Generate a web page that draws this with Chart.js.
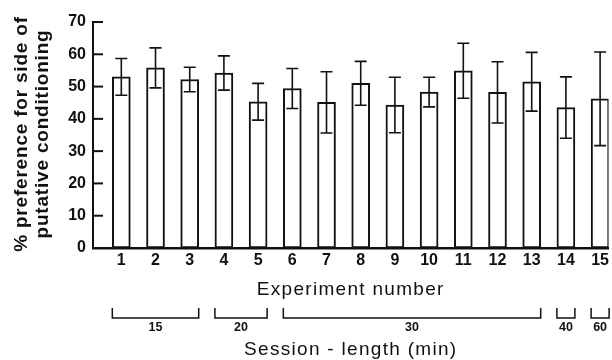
<!DOCTYPE html>
<html>
<head>
<meta charset="utf-8">
<title>Place preference by experiment</title>
<style>
  html, body { margin: 0; padding: 0; background: #fff; overflow: hidden; }
  #wrap { width: 612px; height: 360px; }
</style>
</head>
<body>
<div id="wrap"><canvas id="chart" width="612" height="360"></canvas></div>
<script src="https://cdn.jsdelivr.net/npm/chart.js@4.4.1/dist/chart.umd.min.js"></script>
<script>
// ── Data ─────────────────────────────────────────────────────
const experiments = [1, 2, 3, 4, 5, 6, 7, 8, 9, 10, 11, 12, 13, 14, 15];
const meanPref    = [53.0, 55.8, 52.2, 54.2, 45.3, 49.4, 45.1, 51.0, 44.3, 48.3, 54.9, 48.2, 51.5, 43.5, 46.2];
const prefError   = [5.7, 6.2, 3.8, 5.3, 5.7, 6.2, 9.5, 6.8, 8.6, 4.6, 8.5, 9.5, 9.1, 9.5, 14.5];
const yTicks      = [0, 10, 20, 30, 40, 50, 60, 70];

// session-length groups (which experiments each bracket covers)
const sessionLengths = ['15', '20', '30', '40', '60'];
const sessionFirst   = [1, 4, 6, 14, 15];
const sessionLast    = [3, 5, 13, 14, 15];

const yTitleLines  = ['% preference for side of', 'putative conditioning'];
const xTitle       = 'Experiment number';
const sessionTitle = 'Session - length (min)';

// ── Style ────────────────────────────────────────────────────
const FONT = "'Liberation Sans', Arial, Helvetica, sans-serif";
const INK  = '#111';
const BAR_W = 18;

// ── Error bars ───────────────────────────────────────────────
const errorBars = {
  id: 'errorBars',
  afterDatasetsDraw(chart) {
    const { ctx, chartArea, scales: { x, y } } = chart;
    ctx.save();
    ctx.beginPath();
    ctx.rect(chartArea.left, 0, chartArea.width, chartArea.bottom);
    ctx.clip();
    ctx.strokeStyle = INK;
    ctx.lineWidth = 1.6;
    experiments.forEach((e, i) => {
      const px  = x.getPixelForValue(e);
      const top = y.getPixelForValue(meanPref[i] + prefError[i]);
      const bot = y.getPixelForValue(meanPref[i] - prefError[i]);
      ctx.beginPath();
      ctx.moveTo(px, top); ctx.lineTo(px, bot);
      ctx.moveTo(px - 6, top); ctx.lineTo(px + 6, top);
      ctx.moveTo(px - 6, bot); ctx.lineTo(px + 6, bot);
      ctx.stroke();
    });
    ctx.restore();
  }
};

// ── Inward ticks, titles and session brackets ────────────────
const decorations = {
  id: 'decorations',
  afterDraw(chart) {
    const { ctx, chartArea, scales: { x, y } } = chart;
    ctx.save();
    ctx.strokeStyle = INK;
    ctx.fillStyle = INK;

    // y ticks point into the plot
    ctx.lineWidth = 2;
    yTicks.slice(1).forEach(v => {
      const py = y.getPixelForValue(v);
      ctx.beginPath();
      ctx.moveTo(chartArea.left, py);
      ctx.lineTo(chartArea.left + 10, py);
      ctx.stroke();
    });

    // y title, two rotated lines
    ctx.font = `bold 19px ${FONT}`;
    ctx.letterSpacing = '0.8px';
    ctx.textAlign = 'center';
    ctx.textBaseline = 'middle';
    [22, 43].forEach((cx, i) => {
      ctx.save();
      ctx.translate(cx, 134);
      ctx.rotate(-Math.PI / 2);
      ctx.fillText(yTitleLines[i], 0, 0);
      ctx.restore();
    });

    const midX = (chartArea.left + chartArea.right) / 2;

    // x title
    ctx.font = `19px ${FONT}`;
    ctx.letterSpacing = '1.3px';
    ctx.fillText(xTitle, midX, 290);

    // session brackets
    ctx.lineWidth = 1.5;
    ctx.font = `bold 12.5px ${FONT}`;
    ctx.letterSpacing = '0px';
    sessionLengths.forEach((label, i) => {
      const l = x.getPixelForValue(sessionFirst[i]) - BAR_W / 2;
      const r = x.getPixelForValue(sessionLast[i]) + BAR_W / 2;
      ctx.beginPath();
      ctx.moveTo(l, 308); ctx.lineTo(l, 318); ctx.lineTo(r, 318); ctx.lineTo(r, 308);
      ctx.stroke();
      ctx.fillText(label, (l + r) / 2, 328);
    });

    // session title
    ctx.font = `19px ${FONT}`;
    ctx.letterSpacing = '1.3px';
    ctx.fillText(sessionTitle, midX, 350);
    ctx.restore();
  }
};

// ── Chart ────────────────────────────────────────────────────
const tickFont = { family: FONT, size: 16, weight: 'bold' };

new Chart(document.getElementById('chart'), {
  type: 'bar',
  data: {
    datasets: [{
      data: experiments.map((e, i) => ({ x: e, y: meanPref[i] })),
      backgroundColor: '#fff',
      borderColor: INK,
      borderWidth: 2,
      borderSkipped: false,
      barThickness: BAR_W,
    }],
  },
  options: {
    responsive: false,
    animation: false,
    layout: { padding: { top: 22, left: 0, right: 0, bottom: 0 } },
    plugins: {
      legend: { display: false },
      tooltip: { enabled: false },
    },
    scales: {
      x: {
        type: 'linear',
        offset: false,
        min: 0.172,
        max: 15.247,
        afterBuildTicks: s => { s.ticks = experiments.map(v => ({ value: v })); },
        afterFit: s => { s.height = 112; },
        grid: { display: false, drawTicks: false, offset: false },
        border: { display: true, color: INK, width: 2.5 },
        ticks: { color: INK, font: tickFont, padding: 3, autoSkip: false, maxRotation: 0 },
      },
      y: {
        min: 0,
        max: 70,
        afterBuildTicks: s => { s.ticks = yTicks.map(v => ({ value: v })); },
        afterFit: s => { s.width = 93; },
        grid: { display: false, drawTicks: false },
        border: { display: true, color: INK, width: 2 },
        ticks: { color: INK, font: tickFont, padding: 7 },
      },
    },
  },
  plugins: [errorBars, decorations],
});
</script>
</body>
</html>
